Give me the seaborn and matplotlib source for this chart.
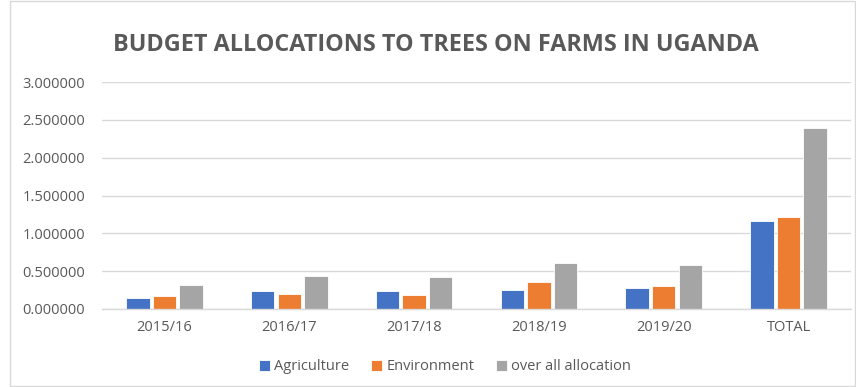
import matplotlib
matplotlib.use("Agg")
import matplotlib.pyplot as plt
import seaborn as sns
import pandas as pd
from matplotlib.patches import Rectangle
from matplotlib.ticker import FormatStrFormatter

categories = ["2015/16", "2016/17", "2017/18", "2018/19", "2019/20", "TOTAL"]
agriculture = [0.150, 0.234, 0.234, 0.251, 0.278, 1.165]
environment = [0.168, 0.199, 0.185, 0.357, 0.300, 1.222]
overall = [0.318, 0.437, 0.423, 0.609, 0.587, 2.391]
series_names = ["Agriculture", "Environment", "over all allocation"]
colors = ["#4472C4", "#ED7D31", "#A5A5A5"]

rows = []
for name, vals in zip(series_names, [agriculture, environment, overall]):
    for c, v in zip(categories, vals):
        rows.append({"year": c, "series": name, "value": v})
df = pd.DataFrame(rows)

sns.set_theme(style="white")
plt.rcParams["font.family"] = ["Open Sans", "DejaVu Sans"]

fig = plt.figure(figsize=(8.56, 3.87), dpi=100)
ax = fig.add_axes([102 / 856, 1 - 309 / 387, (851 - 102) / 856, (309 - 82) / 387])

sns.barplot(data=df, x="year", y="value", hue="series", order=categories,
            hue_order=series_names, palette=colors, width=0.64, gap=0.12,
            ax=ax, saturation=1, edgecolor="white", linewidth=0.6)

ax.set_ylim(0, 3.0)
ax.set_yticks([0, 0.5, 1.0, 1.5, 2.0, 2.5, 3.0])
ax.yaxis.set_major_formatter(FormatStrFormatter("%.6f"))
ax.grid(axis="y", color="#D9D9D9", linewidth=1)
ax.set_axisbelow(True)
for s in ["top", "right", "left"]:
    ax.spines[s].set_visible(False)
ax.spines["bottom"].set_color("#D9D9D9")
ax.spines["bottom"].set_linewidth(1)
ax.tick_params(axis="both", length=0, labelsize=10.5, colors="#595959")
ax.tick_params(axis="y", pad=12)
ax.tick_params(axis="x", pad=8)
ax.set_xlabel("")
ax.set_ylabel("")

leg = ax.legend(loc="center", bbox_to_anchor=(445 / 856, 1 - 367 / 387), bbox_transform=fig.transFigure,
                ncol=3, frameon=False,
                fontsize=10.5, handlelength=0.75, handleheight=0.75, handletextpad=0.3,
                columnspacing=1.5)
for t in leg.get_texts():
    t.set_color("#595959")

fig.text(436 / 856, 1 - 45 / 387, "BUDGET ALLOCATIONS TO TREES ON FARMS IN UGANDA",
         ha="center", va="center", fontsize=16.8, fontweight="bold", color="#595959")

fig.patches.append(Rectangle((10 / 856, 1 / 387), 845 / 856, 385 / 387, transform=fig.transFigure,
                             fill=False, edgecolor="#D9D9D9", linewidth=1))

fig.savefig("out.png", dpi=100)
